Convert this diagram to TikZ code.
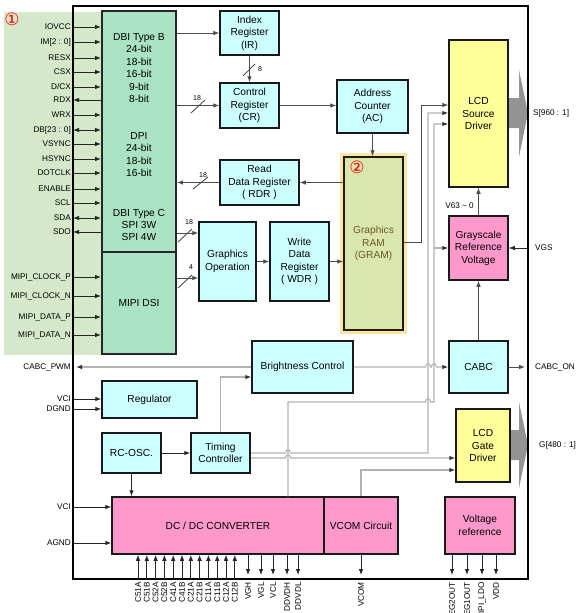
\documentclass[tikz,border=0pt]{standalone}
\usepackage{fontspec}
\setmainfont{Liberation Sans}
\newfontfamily\circledfont{DejaVu Sans}
\usetikzlibrary{arrows.meta}

\definecolor{panelgreen}{HTML}{D6E8CA}
\definecolor{dbigreen}{HTML}{AAE3C4}
\definecolor{regcyan}{HTML}{CCFFFF}
\definecolor{drvyellow}{HTML}{FFFF99}
\definecolor{pwrpink}{HTML}{FF99CC}
\definecolor{gramfill}{HTML}{D9E7AF}
\definecolor{gramglow}{HTML}{FFE4A6}
\definecolor{gramtext}{HTML}{6B5A1E}

\tikzset{
  >={Latex[length=6pt,width=4.6pt]},
  box/.style={draw=black!90, line width=1.5pt, fill=regcyan, align=center, inner sep=1pt,
    font=\fontsize{10.2}{12.5}\selectfont},
  sz/.style 2 args={minimum width=#1pt, minimum height=#2pt},
  ifbox/.style={box, fill=dbigreen, draw=black!85, line width=1.9pt},
  drv/.style={box, fill=drvyellow},
  pwr/.style={box, fill=pwrpink},
  ifline/.style={align=center, font=\fontsize{10.2}{12.4}\selectfont},
  pinlbl/.style={font=\fontsize{8.2}{9}\selectfont, inner xsep=2pt, inner ysep=0pt, anchor=east},
  botlbl/.style={pinlbl, rotate=90, inner xsep=3pt},
  pin/.style={draw=black!85, line width=1pt},
  link/.style={draw=black!70, line width=0.9pt},
  route/.style={draw=black!30, line width=1.1pt, >={Latex[length=6pt,width=4.6pt,color=black!80]}},
  buslbl/.style={font=\fontsize{7}{8}\selectfont, inner sep=0.5pt},
  bigarrow/.style={fill=black!42},
  circnum/.style={text=red, font=\circledfont\fontsize{17}{17}\selectfont, inner sep=0pt}
}

\begin{document}
\begin{tikzpicture}[x=1pt, y=-1pt]

    \useasboundingbox (0,0) rectangle (582,613);

    \fill[panelgreen] (4,12) rectangle (177,355);

    \fill[bigarrow] (508,98) -- (519,98) -- (519,70) -- (528,113) -- (519,157) -- (519,128) -- (508,128) -- cycle;
    \fill[bigarrow] (510,430) -- (519,430) -- (519,402) -- (528,445) -- (519,488) -- (519,460) -- (510,460) -- cycle;

    \draw[line width=2.6pt] (73,6) rectangle (528,579);

    \node[circnum] (n1) at (12,19) {①};

    % interface
    \node[ifbox, sz={74}{241}] (dbi) at (139,131.5) {};
    \node[ifbox, sz={74}{102}] (mipi) at (139,303) {MIPI DSI};
    \node[ifline] (dbib) at (139,68) {DBI Type B\\24-bit\\18-bit\\16-bit\\9-bit\\8-bit};
    \node[ifline] (dpi) at (139,154.5) {DPI\\24-bit\\18-bit\\16-bit};
    \node[ifline] (dbic) at (139,225) {DBI Type C\\SPI 3W\\SPI 4W};

    \foreach \y/\t/\d in {27/IOVCC/->, 42/{IM[2 : 0]}/->, 58/RESX/->, 72/CSX/->, 87/{D/CX}/->,
        100/RDX/<-, 115/WRX/->, 130/{DB[23 : 0]}/<->, 144/VSYNC/->, 159/HSYNC/->,
        173/DOTCLK/->, 189/ENABLE/->, 203/SCL/->, 218/SDA/<->, 232/SDO/<-}
    {
        \node[pinlbl] (pin\y) at (73,\y) {\t};
        \draw[pin,\d] (pin\y.east) -- (dbi.west |- pin\y.east);
    }
    \foreach \y/\t in {277/MIPI\_CLOCK\_P, 296/MIPI\_CLOCK\_N, 317/MIPI\_DATA\_P, 335/MIPI\_DATA\_N}
    {
        \node[pinlbl] (pin\y) at (73,\y) {\t};
        \draw[pin,->] (pin\y.east) -- (mipi.west |- pin\y.east);
    }

    % registers and memory
    \node[box, sz={59}{44}] (ir) at (249.5,33) {Index\\Register\\(IR)};
    \node[box, sz={59}{45}] (cr) at (249.5,105.5) {Control\\Register\\(CR)};
    \node[box, sz={71}{53}] (ac) at (372.5,106.5) {Address\\Counter\\(AC)};
    \node[box, sz={79}{45}] (rdr) at (259.5,182.5) {Read\\Data Register\\( RDR )};
    \node[box, sz={57}{79}] (gop) at (227.5,261.5) {Graphics\\Operation};
    \node[box, sz={59}{79}] (wdr) at (299.5,261.5) {Write\\Data\\Register\\( WDR )};
    \node[box, fill=gramfill, draw=black!70!gramtext, text=gramtext, sz={59}{173},
        preaction={draw=gramglow, line width=8pt}] (gram) at (373.5,243.5) {Graphics\\RAM\\(GRAM)};
    \node[circnum] (n2) at (357,167) {②};

    \draw[link,->] (dbi.east |- ir.west) -- (ir.west);
    \draw[link,->] (dbi.east |- cr.west) -- (cr.west);
    \draw[link,->] (ir.south) -- (cr.north);
    \draw[link,->] (cr.east) -- (ac.west |- cr.east);
    \draw[link,->] (ac.south) -- (ac.south |- gram.north);
    \draw[link,->] (gram.west |- rdr.east) -- (rdr.east);
    \draw[link,->] (rdr.west) -- (dbi.east |- rdr.west);
    \draw[link,->] (dbi.east |- 0,233) -- (gop.west |- 0,233);
    \draw[link,->] (mipi.east |- 0,278) -- (gop.west |- 0,278);
    \draw[link,->] (gop.east) -- (wdr.west);
    \draw[link,->] (wdr.east) -- (gram.west |- wdr.east);

    \draw[link] (243,76) -- (255,64);
    \node[buslbl] (w8) at (260,69) {8};
    \draw[link] (191,113) -- (205,100);
    \node[buslbl] (w18a) at (197,98) {18};
    \draw[link] (193,189) -- (208,177);
    \node[buslbl] (w18b) at (203,175) {18};
    \draw[link] (178,242) -- (192,229);
    \node[buslbl] (w18c) at (189,222) {18};
    \draw[link] (178,288) -- (192,275);
    \node[buslbl] (w4) at (191,267) {4};

    % drivers
    \node[drv, sz={59}{147}] (lsd) at (478.5,113.5) {LCD\\Source\\Driver};
    \node[pwr, sz={59}{64}] (grv) at (478.5,248) {Grayscale\\Reference\\Voltage};
    \node[box, sz={59}{52}] (cabc) at (478.5,367) {CABC};
    \node[box, sz={101}{52}] (bc) at (302.5,367) {Brightness Control};
    \node[drv, sz={54}{73}] (lgd) at (483,445.5) {LCD\\Gate\\Driver};

    \node[pinlbl, anchor=west, inner xsep=0pt] (sout) at (533,113) {S[960 : 1]};
    \node[pinlbl, anchor=west, inner xsep=0pt] (gout) at (539,445) {G[480 : 1]};
    \node[pinlbl, anchor=west, inner xsep=0pt] (vgs) at (535,248) {VGS};
    \node[pinlbl, anchor=west, inner xsep=0pt] (cabcon) at (535,367) {CABC\_ON};
    \node[pinlbl, anchor=east, inner xsep=0pt] (v63) at (474,206) {V63 \textasciitilde\ 0};
    \node[pinlbl] (pwm) at (73,367) {CABC\_PWM};

    \draw[pin,->] ([xshift=-7pt]vgs.west) -- (grv.east);
    \draw[link,->] (cabc.east) -- ([xshift=-10pt]cabcon.west);
    \draw[link,->] (grv.north) -- (lsd.south);
    \draw[link,->] (cabc.north) -- (grv.south);

    % power and timing
    \node[box, sz={95}{37}] (reg) at (149.5,399.5) {Regulator};
    \node[box, sz={59}{40}] (osc) at (131.5,453) {RC-OSC.};
    \node[box, sz={59}{40}] (tc) at (220.5,453) {Timing\\Controller};
    \node[pwr, sz={212}{57}] (dcdc) at (218,525.5) {DC / DC CONVERTER};
    \node[pwr, sz={74}{57}] (vcom) at (361,525.5) {VCOM Circuit};
    \node[pwr, sz={70}{57}] (vref) at (480,525.5) {Voltage\\reference};

    \node[pinlbl] (vci1) at (73,399) {VCI};
    \node[pinlbl] (dgnd) at (73,409) {DGND};
    \node[pinlbl] (vci2) at (73,507) {VCI};
    \node[pinlbl] (agnd) at (73,543) {AGND};
    \draw[pin,->] (vci1.east) -- (reg.west |- vci1.east);
    \draw[pin,->] (dgnd.east) -- (reg.west |- dgnd.east);
    \draw[pin,->] (vci2.east) -- (dcdc.west |- vci2.east);
    \draw[pin,->] (agnd.east) -- (dcdc.west |- agnd.east);

    \draw[pin,->] (osc.east) -- (tc.west);
    \draw[pin,->] (osc.south) -- (osc.south |- dcdc.north);

    \draw[link,->] (gram.east |- 0,242) -- (421,242) -- (421,105) -- (lsd.west |- 0,105);
    \draw[route,->] (tc.east) -- (285.5,453) .. controls (285.5,448.5) and (290.5,448.5) .. (290.5,453)
        -- (428,453) -- (428,113) -- (lsd.west |- 0,113);
    \draw[route,->] (dcdc.north -| 288,0) -- (288,402) -- (425.5,402)
        .. controls (425.5,397.5) and (430.5,397.5) .. (430.5,402) -- (434,402) -- (434,124) -- (lsd.west |- 0,124);
    \draw[route,->] (434,248) -- (grv.west);
    \draw[route,->] (tc.east |- 0,458) -- (285.5,458) .. controls (285.5,453.5) and (290.5,453.5) .. (290.5,458)
        -- (lgd.west |- 0,458);
    \draw[route,->] (vcom.north) -- (361,470) -- (lgd.west |- 0,470);
    \draw[route,->] (tc.north) -- (tc.north |- 0,377) -- (bc.west |- 0,377);
    \draw[route,->] (bc.west) -- ([xshift=3pt]pwm.east);
    \draw[route,->] (bc.east) -- (425.5,367) .. controls (425.5,362.5) and (430.5,362.5) .. (430.5,367)
        -- (431.5,367) .. controls (431.5,362.5) and (436.5,362.5) .. (436.5,367) -- (cabc.west);

    % bottom pins
    \foreach \x/\t [count=\i] in {138/C51A, 146.8/C51B, 155.6/C52A, 164.4/C52B, 173.2/C41A, 182/C41B,
        190.8/C21A, 199.6/C21B, 208.4/C11A, 217.2/C11B, 226/C12A, 234.8/C12B}
    {
        \node[botlbl] (cap\i) at (\x,579) {\t};
        \draw[pin,->] (cap\i.east) -- (cap\i.east |- dcdc.south);
    }
    \foreach \x/\t [count=\i] in {248/VGH, 261/VGL, 273/VCL, 287/DDVDH, 298/DDVDL}
    {
        \node[botlbl] (out\i) at (\x,579) {\t};
        \draw[pin,->] (dcdc.south -| out\i.east) -- ([yshift=4pt]out\i.east);
    }
    \node[botlbl] (vcomout) at (361,579) {VCOM};
    \draw[pin,->] (vcom.south) -- ([yshift=4pt]vcomout.east);
    \foreach \x/\t [count=\i] in {452/VREG2OUT, 467/VREG1OUT, 482/MIPI\_LDO, 496/VDD}
    {
        \node[botlbl] (ref\i) at (\x,579) {\t};
        \draw[pin,->] (vref.south -| ref\i.east) -- ([yshift=4pt]ref\i.east);
    }

\end{tikzpicture}
\end{document}
